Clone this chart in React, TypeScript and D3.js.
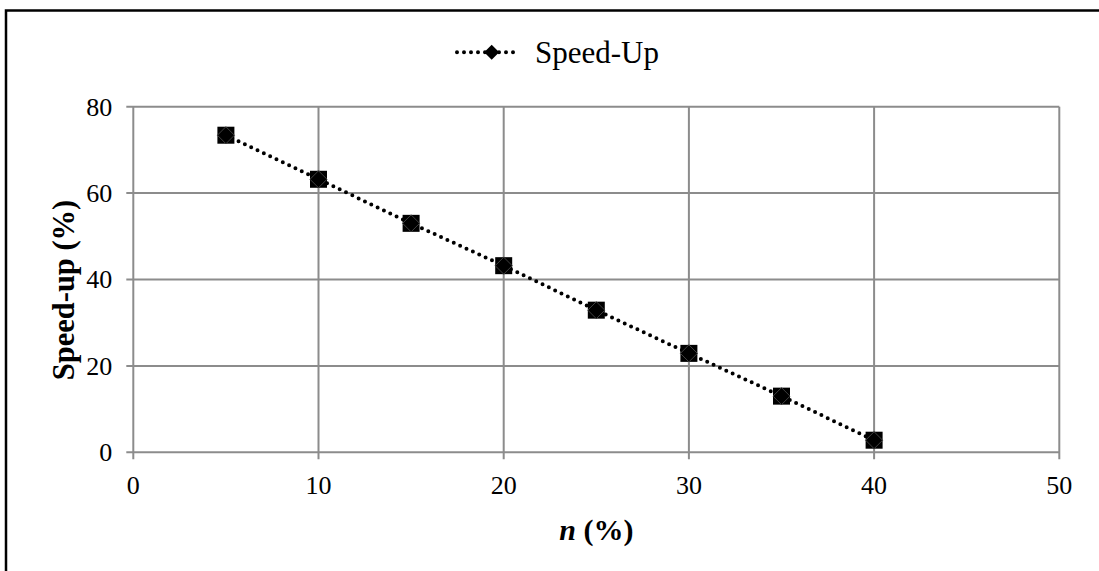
import React from "react";
import * as d3 from "d3";

const nValues = [5, 10, 15, 20, 25, 30, 35, 40];
const speedUp = [73.4, 63.2, 53.0, 43.2, 32.9, 22.9, 13.0, 2.8];
const xTicks = [0, 10, 20, 30, 40, 50];
const yTicks = [0, 20, 40, 60, 80];
const seriesName = "Speed-Up";
const xTitleVar = "n";
const xTitleRest = " (%)";
const yTitle = "Speed-up (%)";

const W = 1099;
const H = 571;
const FONT = "'Liberation Serif', 'Times New Roman', serif";
const GRID = "#8c8c8c";

export default function App() {
  const x = d3.scaleLinear().domain([0, 50]).range([133.3, 1059.3]);
  const y = d3.scaleLinear().domain([0, 80]).range([452.3, 106.7]);
  const line = d3
    .line<number>()
    .x((_, i) => x(nValues[i]))
    .y((d) => y(d))
    .curve(d3.curveLinear);
  const pts = speedUp.map((v, i) => [x(nValues[i]), y(v)]);
  const ms = 8.5;
  const diamond = (cx: number, cy: number, r: number) =>
    `M${cx},${cy - r}L${cx + r},${cy}L${cx},${cy + r}L${cx - r},${cy}Z`;

  const [x0, x1] = x.range();
  const [y0, y1] = y.range();

  return (
    <svg
      width={W}
      height={H}
      style={{ position: "absolute", left: 0, top: 0, background: "#fff" }}
    >
      <rect x={0} y={0} width={W} height={H} fill="#fff" />
      <rect
        x={6}
        y={10.5}
        width={W + 20}
        height={H + 20}
        fill="none"
        stroke="#000"
        strokeWidth={2.5}
      />
      {/* gridlines */}
      {yTicks.map((t) => (
        <line
          key={"gy" + t}
          x1={x0 - 7}
          x2={x1}
          y1={y(t)}
          y2={y(t)}
          stroke={GRID}
          strokeWidth={2}
        />
      ))}
      {xTicks.map((t) => (
        <line
          key={"gx" + t}
          x1={x(t)}
          x2={x(t)}
          y1={y1}
          y2={y0 + 7}
          stroke={GRID}
          strokeWidth={2}
        />
      ))}
      {/* tick labels */}
      {yTicks.map((t) => (
        <text
          key={"ly" + t}
          x={x0 - 21}
          y={y(t)}
          dy="0.34em"
          textAnchor="end"
          fontFamily={FONT}
          fontSize={26}
          fill="#000"
        >
          {t}
        </text>
      ))}
      {xTicks.map((t) => (
        <text
          key={"lx" + t}
          x={x(t)}
          y={494}
          textAnchor="middle"
          fontFamily={FONT}
          fontSize={26}
          fill="#000"
        >
          {t}
        </text>
      ))}
      {/* axis titles */}
      <text
        x={(x0 + x1) / 2}
        y={540}
        textAnchor="middle"
        fontFamily={FONT}
        fontSize={30}
        fontWeight="bold"
        fill="#000"
      >
        <tspan fontStyle="italic">{xTitleVar}</tspan>
        {xTitleRest}
      </text>
      <text
        transform={`translate(74, 290) rotate(-90)`}
        textAnchor="middle"
        fontFamily={FONT}
        fontSize={30.5}
        fontWeight="bold"
        fill="#000"
      >
        {yTitle}
      </text>
      {/* series line */}
      <path
        d={line(speedUp) || ""}
        fill="none"
        stroke="#000"
        strokeWidth={4}
        strokeDasharray="0 7"
        strokeLinecap="round"
      />
      {pts.map(([cx, cy], i) => (
        <g key={"m" + i}>
          <rect x={cx - ms} y={cy - ms} width={ms * 2} height={ms * 2} fill="#000" />
          <path d={diamond(cx, cy, ms)} fill="#000" stroke="#404040" strokeWidth={1} />
        </g>
      ))}
      {/* legend */}
      <line
        x1={457}
        x2={518}
        y1={52.3}
        y2={52.3}
        stroke="#000"
        strokeWidth={4}
        strokeDasharray="0 7"
        strokeLinecap="round"
      />
      <path d={diamond(491.7, 52.3, 7.5)} fill="#000" />
      <text
        x={535}
        y={52.3}
        dy="0.34em"
        fontFamily={FONT}
        fontSize={31}
        fill="#000"
      >
        {seriesName}
      </text>
    </svg>
  );
}
